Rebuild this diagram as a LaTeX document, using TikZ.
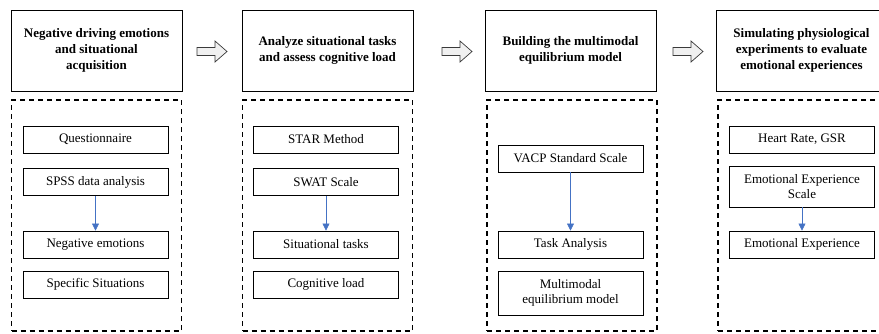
\documentclass[tikz,border=0pt]{standalone}
\usepackage{fontspec}
\setmainfont{Liberation Serif}
\usetikzlibrary{arrows.meta}
\definecolor{flowblue}{HTML}{4472C4}
\definecolor{blockfill}{HTML}{F0F0F0}
\definecolor{blockedge}{HTML}{3A3A3A}
\tikzset{
  header/.style={draw=black, line width=0.9pt, minimum width=171pt, minimum height=81pt,
    align=center, inner sep=2pt, font=\fontsize{13pt}{16pt}\selectfont\bfseries},
  panel/.style={draw=black, line width=1.2pt, dash pattern=on 5pt off 4pt,
    minimum width=170pt, minimum height=231pt, inner sep=0pt},
  stepbox/.style={draw=black, line width=0.9pt, minimum width=145pt, minimum height=27pt,
    align=center, inner sep=2pt, font=\fontsize{13pt}{15pt}\selectfont},
  flow/.style={draw=flowblue, line width=0.5pt, -{Triangle[width=7pt,length=7pt]}},
  blockarrow/.style={draw=blockedge, fill=blockfill, line width=0.7pt, line join=miter},
}
\begin{document}
\begin{tikzpicture}[x=1pt, y=-1pt]
\useasboundingbox (0,0) rectangle (879,333);

% stage headers
\node[header] (h1) at (96.5,50.5) {Negative driving emotions\\and situational\\acquisition};
\node[header] (h2) at (327.5,50.5) {Analyze situational tasks\\and assess cognitive load};
\node[header] (h3) at (570.5,50.5) {Building the multimodal\\equilibrium model};
\node[header] (h4) at (801.5,50.5) {Simulating physiological\\experiments to evaluate\\emotional experiences};

% dashed panels under each header
\node[panel] (p1) at (96.5,215.5) {};
\node[panel] (p2) at (327.5,215.5) {};
\node[panel] (p3) at (572,215.5) {};
\node[panel] (p4) at (803,215.5) {};

% hollow block arrows between stages
\foreach \name/\xa in {a12/197, a23/442, a34/673} {
  \coordinate (\name) at (\xa,51.5);
  \draw[blockarrow] (\name) ++(0,-4) -- ++(18,0) -- ++(0,-6.5) -- ++(12,10.5)
    -- ++(-12,10.5) -- ++(0,-6.5) -- ++(-18,0) -- cycle;
}

% stage 1
\node[stepbox] (q1) at (95.5,139.5) {Questionnaire};
\node[stepbox] (q2) at (95.5,182) {SPSS data analysis};
\node[stepbox] (q3) at (95.5,244.5) {Negative emotions};
\node[stepbox] (q4) at (95.5,284.5) {Specific Situations};
\draw[flow] (q2) -- (q3);

% stage 2
\node[stepbox] (s1) at (326,139.5) {STAR Method};
\node[stepbox] (s2) at (326,182) {SWAT Scale};
\node[stepbox] (s3) at (326,244.5) {Situational tasks};
\node[stepbox] (s4) at (326,284.5) {Cognitive load};
\draw[flow] (s2) -- (s3);

% stage 3
\node[stepbox] (m1) at (570.5,158.5) {VACP Standard Scale};
\node[stepbox] (m2) at (570.5,244.5) {Task Analysis};
\node[stepbox, minimum height=44pt] (m3) at (570.5,293) {Multimodal\\equilibrium model};
\draw[flow] (m1) -- (m2);

% stage 4
\node[stepbox] (e1) at (802,139.5) {Heart Rate, GSR};
\node[stepbox, minimum height=41pt] (e2) at (802,186.5) {Emotional Experience\\Scale};
\node[stepbox] (e3) at (802,244.5) {Emotional Experience};
\draw[flow] (e2) -- (e3);
\end{tikzpicture}
\end{document}
